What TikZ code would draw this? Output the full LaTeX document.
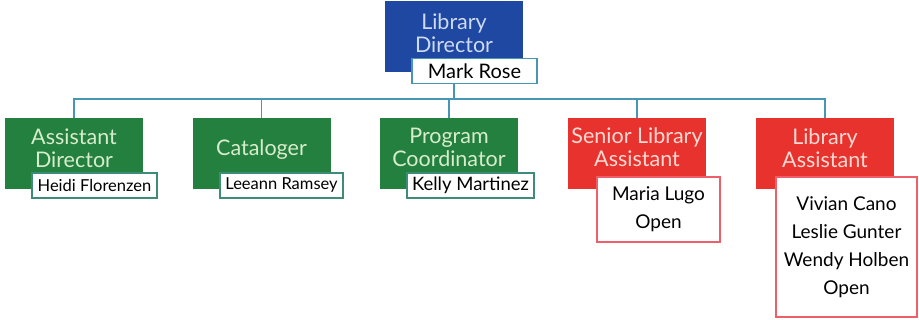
\documentclass[tikz,border=0pt]{standalone}
\usepackage{fontspec}
\setmainfont{Lato}
\usetikzlibrary{positioning,backgrounds}
\definecolor{dirblue}{RGB}{30,72,162}
\definecolor{staffgreen}{RGB}{36,128,62}
\definecolor{asstred}{RGB}{232,50,45}
\definecolor{linkteal}{RGB}{70,150,180}
\definecolor{lightblue}{RGB}{205,218,242}
\definecolor{lightgreen}{RGB}{215,236,205}
\definecolor{lightred}{RGB}{255,218,212}
\definecolor{greenrim}{RGB}{60,140,120}
\definecolor{redrim}{RGB}{238,95,105}
\tikzset{
  title/.style={rectangle, minimum width=138pt, minimum height=71pt, align=center,
    font=\fontsize{21.5}{23}\selectfont, inner sep=0pt, text depth=12pt},
  bluebox/.style={title, fill=dirblue, text=lightblue},
  greenbox/.style={title, fill=staffgreen, text=lightgreen},
  redbox/.style={title, fill=asstred, text=lightred},
  namebox/.style={rectangle, fill=white, draw=#1, line width=1.1pt, align=center,
    inner sep=0pt, minimum height=25pt, font=\fontsize{19}{28}\selectfont},
  smallname/.style={font=\fontsize{16.5}{28}\selectfont},
  link/.style={draw=linkteal, line width=1.4pt}
}
\begin{document}
\begin{tikzpicture}[x=1pt,y=-1pt]
  \useasboundingbox (0,0) rectangle (919,320);
  % top of the chart
  \node [bluebox, text depth=8pt] (dir) at (454,37) {Library\\Director};
  \node [namebox=linkteal, minimum width=125pt, font=\fontsize{20}{28}\selectfont] (dirname) at (474.5,71) {Mark Rose};
  % second row
  \node [greenbox] (asst) at (74,154) {Assistant\\Director};
  \node [namebox=greenrim, smallname, minimum width=125pt] (asstname) at (94.5,185.5) {Heidi Florenzen};
  \node [greenbox] (cat) at (261.5,154) {Cataloger};
  \node [namebox=greenrim, smallname, minimum width=123pt] (catname) at (281.5,185.5) {Leeann Ramsey};
  \node [greenbox] (prog) at (449,153.5) {Program\\Coordinator};
  \node [namebox=greenrim, minimum width=127pt, font=\fontsize{18.5}{28}\selectfont] (progname) at (470.5,185.5) {Kelly Martinez};
  \node [redbox] (senior) at (637,153.5) {Senior Library\\Assistant};
  \node [namebox=redrim, minimum width=123pt, minimum height=65pt] (seniorname) at (658.5,209.5) {Maria Lugo\\Open};
  \node [redbox] (libasst) at (825,154) {Library\\Assistant};
  \node [namebox=redrim, minimum width=141pt, minimum height=140pt] (libasstname) at (846.5,247)
    {Vivian Cano\\Leslie Gunter\\Wendy Holben\\Open};
  % connectors
  \coordinate (bus) at (454,99);
  \begin{scope}[on background layer]
    \draw [link] (dir.south) -- (dir.south |- bus);
    \foreach \c in {asst,cat,prog,senior,libasst}
      \draw [link] (dir.south |- bus) -| (\c.north);
  \end{scope}
\end{tikzpicture}
\end{document}
